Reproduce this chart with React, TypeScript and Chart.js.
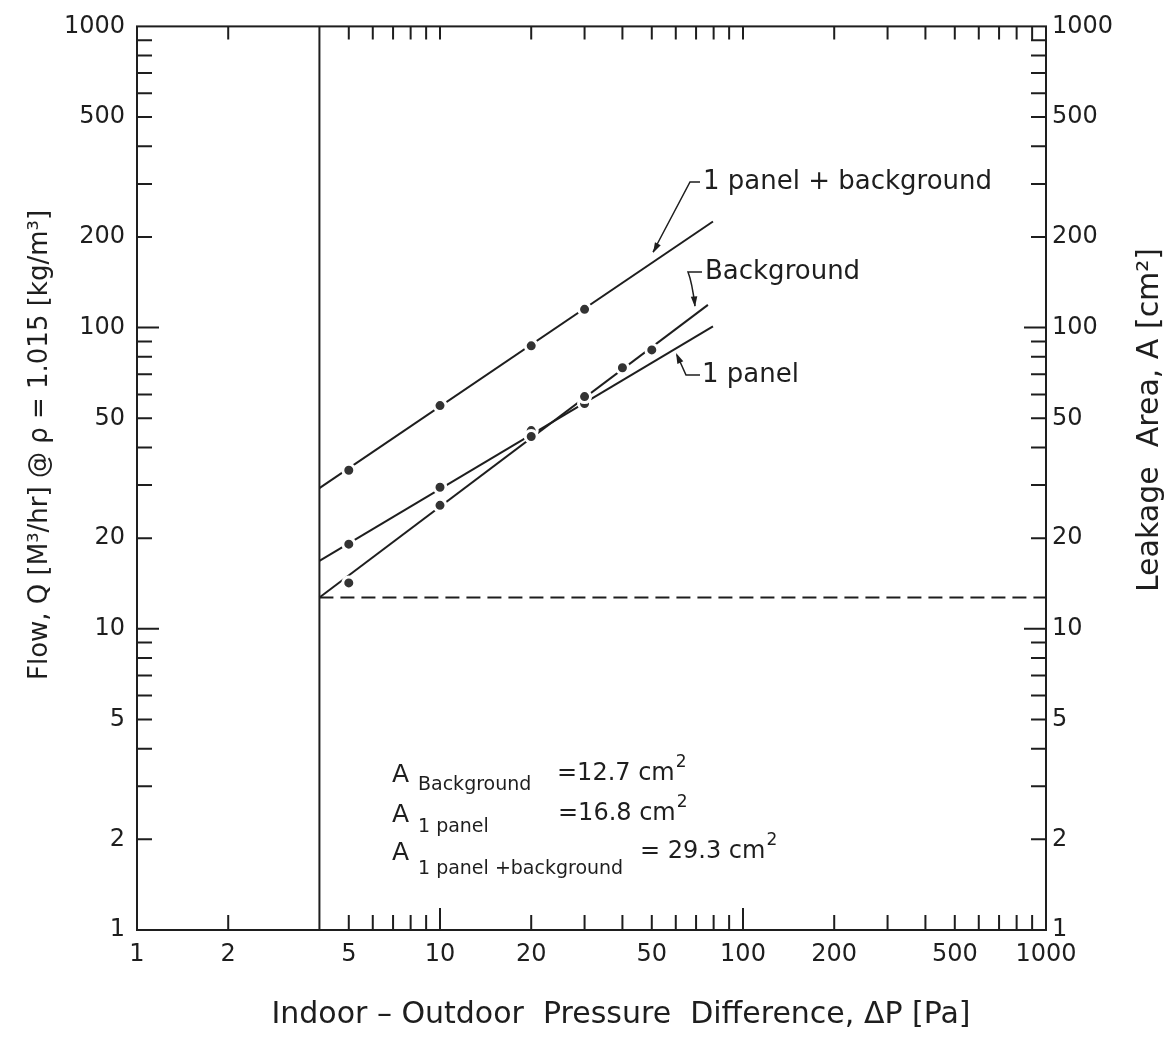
import React, { useEffect, useRef } from "react";
import { Chart, registerables } from "chart.js";

Chart.register(...registerables);

// ---------- data ----------
const xTickValues = [1, 2, 5, 10, 20, 50, 100, 200, 500, 1000];
const xTickLabels = ["1", "2", "5", "10", "20", "50", "100", "200", "500", "1000"];
const yTickValues = [1, 2, 5, 10, 20, 50, 100, 200, 500, 1000];
const yTickLabels = ["1", "2", "5", "10", "20", "50", "100", "200", "500", "1000"];
const xMinorTicks = [2, 5, 6, 7, 8, 9, 20, 30, 40, 50, 60, 70, 80, 90, 200, 300, 400, 500, 600, 700, 800, 900];
const xMajorTicks = [10, 100];
const yMinorTicks = [2, 3, 4, 5, 6, 7, 8, 9, 20, 30, 40, 50, 60, 70, 80, 90, 200, 300, 400, 500, 600, 700, 800, 900];
const yMajorTicks = [10, 100];

// measured points (ΔP [Pa], Q [m3/hr])
const comboPointsX = [5, 10, 20, 30];
const comboPointsY = [33.6, 55.1, 87, 115];
const bgPointsX = [5, 10, 20, 30, 40, 50];
const bgPointsY = [14.2, 25.7, 43.5, 59, 73.6, 84.3];
const panelPointsX = [5, 10, 20, 30];
const panelPointsY = [19.1, 29.5, 45.5, 56];

// fitted lines
const comboFitX = [4, 79.6];
const comboFitY = [29.3, 225];
const bgFitX = [4, 76.6];
const bgFitY = [12.7, 119];
const panelFitX = [4, 79.6];
const panelFitY = [16.8, 101];

// reference lines
const refPressure = 4; // Pa
const refLineY = [1, 1000];
const bgAreaLineX = [4, 1000];
const bgAreaLineY = [12.7, 12.7];

const INK = "#1e1e1e";
const FONT = "'DejaVu Sans', 'Liberation Sans', sans-serif";

const toPts = (xs: number[], ys: number[]) => xs.map((x, i) => ({ x, y: ys[i] }));

function arrowHead(ctx: CanvasRenderingContext2D, fx: number, fy: number, tx: number, ty: number, size = 11) {
  const ang = Math.atan2(ty - fy, tx - fx);
  ctx.beginPath();
  ctx.moveTo(tx, ty);
  ctx.lineTo(tx - size * Math.cos(ang - 0.3), ty - size * Math.sin(ang - 0.3));
  ctx.lineTo(tx - size * Math.cos(ang + 0.3), ty - size * Math.sin(ang + 0.3));
  ctx.closePath();
  ctx.fill();
}

const framePlugin = {
  id: "frame",
  afterDatasetsDraw(chart: any) {
    const { ctx, chartArea: a, scales } = chart;
    const xs = scales.x;
    const ys = scales.y;
    ctx.save();
    ctx.strokeStyle = INK;
    ctx.lineWidth = 2;
    ctx.strokeRect(a.left, a.top, a.right - a.left, a.bottom - a.top);
    ctx.beginPath();
    const xt = (v: number, lb: number, lt: number) => {
      const p = xs.getPixelForValue(v);
      ctx.moveTo(p, a.bottom);
      ctx.lineTo(p, a.bottom - lb);
      ctx.moveTo(p, a.top);
      ctx.lineTo(p, a.top + lt);
    };
    xMinorTicks.forEach((v) => xt(v, 15, 13));
    xMajorTicks.forEach((v) => xt(v, 22, 13));
    const yt = (v: number, l: number) => {
      const p = ys.getPixelForValue(v);
      ctx.moveTo(a.left, p);
      ctx.lineTo(a.left + l, p);
      ctx.moveTo(a.right, p);
      ctx.lineTo(a.right - l, p);
    };
    yMinorTicks.forEach((v) => yt(v, 15));
    yMajorTicks.forEach((v) => yt(v, 22));
    ctx.stroke();
    ctx.restore();
  },
  afterDraw(chart: any) {
    const { ctx } = chart;
    ctx.save();
    ctx.fillStyle = INK;
    ctx.strokeStyle = INK;
    ctx.lineWidth = 1.5;

    // axis titles
    ctx.textAlign = "center";
    ctx.textBaseline = "middle";
    ctx.font = `30px ${FONT}`;
    ctx.fillText("Indoor \u2013 Outdoor  Pressure  Difference, \u0394P [Pa]", 621, 1015);
    ctx.save();
    ctx.translate(1150, 420);
    ctx.rotate(-Math.PI / 2);
    ctx.fillText("Leakage  Area, A [cm\u00B2]", 0, 0);
    ctx.restore();
    ctx.font = `26px ${FONT}`;
    ctx.save();
    ctx.translate(40, 445);
    ctx.rotate(-Math.PI / 2);
    ctx.fillText("Flow, Q [M\u00B3/hr] @ \u03C1 = 1.015 [kg/m\u00B3]", 0, 0);
    ctx.restore();

    // line labels with leaders
    ctx.textAlign = "left";
    ctx.textBaseline = "middle";
    ctx.font = `26px ${FONT}`;
    ctx.fillText("1 panel + background", 703, 182);
    ctx.fillText("Background", 705, 272);
    ctx.fillText("1 panel", 702, 375);

    ctx.beginPath();
    ctx.moveTo(700, 182);
    ctx.lineTo(690, 182);
    ctx.lineTo(653, 252);
    ctx.moveTo(702, 272);
    ctx.lineTo(688, 272);
    ctx.quadraticCurveTo(692, 282, 695, 306);
    ctx.moveTo(700, 375);
    ctx.lineTo(686, 375);
    ctx.lineTo(677, 355);
    ctx.stroke();
    arrowHead(ctx, 690, 182, 653, 253);
    arrowHead(ctx, 693, 285, 695, 307);
    arrowHead(ctx, 686, 375, 676, 353);

    // area annotations
    ctx.textBaseline = "alphabetic";
    const row = (sub: string, val: string, yA: number, ySub: number, xVal: number) => {
      ctx.font = `25px ${FONT}`;
      ctx.fillText("A", 392, yA);
      ctx.font = `19px ${FONT}`;
      ctx.fillText(sub, 418, ySub);
      ctx.font = `24px ${FONT}`;
      ctx.fillText(val, xVal, yA - 2);
      const w = ctx.measureText(val).width;
      ctx.font = `17px ${FONT}`;
      ctx.fillText("2", xVal + w + 1, yA - 15);
    };
    row("Background", "=12.7 cm", 782, 790, 557);
    row("1 panel", "=16.8 cm", 822, 832, 558);
    row("1 panel +background", "= 29.3 cm", 860, 874, 640);
    ctx.restore();
  },
};

export default function App() {
  const ref = useRef<HTMLCanvasElement | null>(null);
  useEffect(() => {
    if (!ref.current) return;
    const pointStyle = {
      showLine: false,
      pointRadius: 6,
      pointBackgroundColor: "#333333",
      pointBorderColor: "#ffffff",
      pointBorderWidth: 3,
      order: 0,
    };
    const lineStyle = {
      showLine: true,
      pointRadius: 0,
      borderColor: INK,
      borderWidth: 2,
      order: 5,
    };
    const chart = new Chart(ref.current, {
      type: "scatter",
      data: {
        datasets: [
          { label: "1 panel + background", data: toPts(comboPointsX, comboPointsY), ...pointStyle },
          { label: "Background", data: toPts(bgPointsX, bgPointsY), ...pointStyle },
          { label: "1 panel", data: toPts(panelPointsX, panelPointsY), ...pointStyle },
          { label: "1 panel + background fit", data: toPts(comboFitX, comboFitY), ...lineStyle },
          { label: "Background fit", data: toPts(bgFitX, bgFitY), ...lineStyle },
          { label: "1 panel fit", data: toPts(panelFitX, panelFitY), ...lineStyle },
          {
            label: "reference pressure",
            data: toPts([refPressure, refPressure], refLineY),
            ...lineStyle,
          },
          {
            label: "A background",
            data: toPts(bgAreaLineX, bgAreaLineY),
            ...lineStyle,
            borderDash: [14, 7],
          },
        ],
      },
      options: {
        responsive: false,
        animation: false,
        layout: { padding: { top: 22, left: 0, right: 0, bottom: 0 } },
        plugins: { legend: { display: false }, tooltip: { enabled: false } },
        scales: {
          x: {
            type: "logarithmic",
            position: "bottom",
            min: 1,
            max: 1000,
            afterFit: (s: any) => {
              s.height = 132;
            },
            afterBuildTicks: (s: any) => {
              s.ticks = xTickValues.map((v) => ({ value: v }));
            },
            ticks: {
              autoSkip: false,
              maxRotation: 0,
              minRotation: 0,
              padding: 10,
              color: INK,
              font: { family: FONT, size: 24 },
              callback: (_v: any, i: number) => xTickLabels[i],
            },
            grid: { display: false, drawTicks: false },
            border: { display: false },
          },
          y: {
            type: "logarithmic",
            position: "left",
            min: 1,
            max: 1000,
            afterFit: (s: any) => {
              s.width = 137;
            },
            afterBuildTicks: (s: any) => {
              s.ticks = yTickValues.map((v) => ({ value: v }));
            },
            ticks: {
              autoSkip: false,
              padding: 12,
              color: INK,
              font: { family: FONT, size: 24 },
              callback: (_v: any, i: number) => yTickLabels[i],
            },
            grid: { display: false, drawTicks: false },
            border: { display: false },
          },
          y2: {
            type: "logarithmic",
            position: "right",
            min: 1,
            max: 1000,
            afterFit: (s: any) => {
              s.width = 127;
            },
            afterBuildTicks: (s: any) => {
              s.ticks = yTickValues.map((v) => ({ value: v }));
            },
            ticks: {
              autoSkip: false,
              padding: 6,
              color: INK,
              font: { family: FONT, size: 24 },
              callback: (_v: any, i: number) => yTickLabels[i],
            },
            grid: { display: false, drawTicks: false },
            border: { display: false },
          },
        },
      } as any,
      plugins: [framePlugin],
    });
    return () => chart.destroy();
  }, []);
  return (
    <div style={{ position: "absolute", left: 0, top: 0, width: 1173, height: 1062, background: "#fff" }}>
      <canvas ref={ref} width={1173} height={1062} style={{ display: "block" }} />
    </div>
  );
}
